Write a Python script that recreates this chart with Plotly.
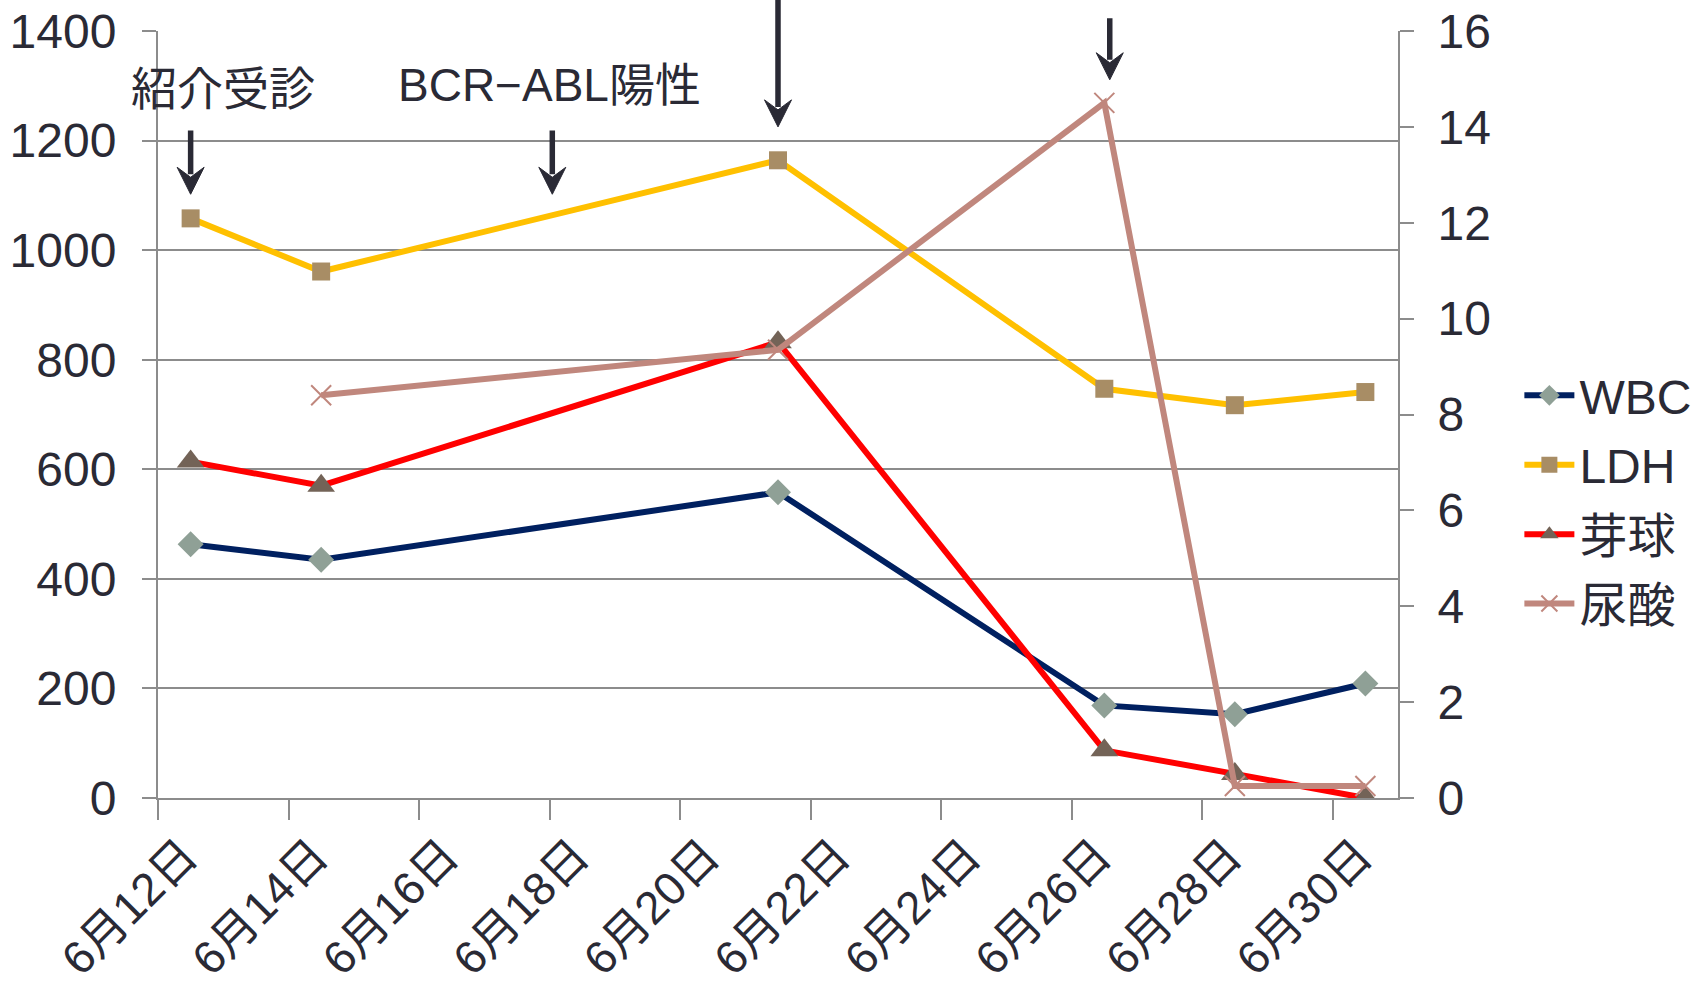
import plotly.graph_objects as go
from datetime import datetime, timedelta

# Measurement days (June); values are plotted at the middle of each day
days = [12, 14, 21, 26, 28, 30]
wbc = [463, 435, 558, 169, 153, 209]
ldh = [1058, 961, 1164, 747, 717, 741]
blast = [614, 570, 832, 87, 44, 0]
uric_days = [14, 21, 26, 28, 30]
uric = [8.4, 9.35, 14.5, 0.25, 0.25]

tick_days = [12, 14, 16, 18, 20, 22, 24, 26, 28, 30]
tick_text = ["6月12日", "6月14日", "6月16日", "6月18日", "6月20日",
             "6月22日", "6月24日", "6月26日", "6月28日", "6月30日"]

FONT = "Liberation Sans, Arial, Noto Sans CJK JP, sans-serif"
TXT = "#2a2a35"
GRID = "#8c8c8c"

W, H = 1707, 984
M = dict(l=158, r=308, t=31, b=186)
Y_MAX = 1400
UNITS_PER_PX = Y_MAX / (H - M["t"] - M["b"])


def day_mid(d):
    return datetime(2013, 6, 1, 12) + timedelta(days=d - 1)


def day_start(d, hours=0):
    return datetime(2013, 6, 1) + timedelta(days=d - 1, hours=hours)


fig = go.Figure()
fig.add_trace(go.Scatter(
    x=[day_mid(d) for d in days], y=wbc, name="WBC", mode="lines+markers",
    legendgroup="a",
    line=dict(color="#002060", width=6),
    marker=dict(symbol="diamond", size=20, color="#8fa096")))
fig.add_trace(go.Scatter(
    x=[day_mid(d) for d in days], y=ldh, name="LDH", mode="lines+markers",
    legendgroup="b",
    line=dict(color="#FFC000", width=6),
    marker=dict(symbol="square", size=18, color="#A88D65")))
fig.add_trace(go.Scatter(
    x=[day_mid(d) for d in days], y=blast, name="芽球", mode="lines+markers",
    legendgroup="c",
    line=dict(color="#FF0000", width=6),
    marker=dict(symbol="triangle-up", size=24, color="#736357")))
fig.add_trace(go.Scatter(
    x=[day_mid(d) for d in uric_days], y=uric, name="尿酸", mode="lines+markers",
    yaxis="y2", legendgroup="d",
    line=dict(color="#C0877D", width=6),
    marker=dict(symbol="x-thin", size=20, line=dict(color="#C0877D", width=2))))

# Event arrows (tip value, tail value) on the left axis scale
arrows = [
    (day_mid(12), 1102, 1221),
    (day_start(18, 1), 1102, 1221),
    (day_mid(21), 1225, 1470),
    (day_start(26, 14), 1311, 1426),
]
HEAD_LEN = 27
HEAD_HALF = 13.5
NOTCH = 17
annotations = []
shapes = []
for x, tip, tail in arrows:
    # shaft ends inside the notch of the head
    annotations.append(dict(
        x=x, y=tip + (NOTCH + 3) * UNITS_PER_PX, ax=x, ay=tail,
        xref="x", yref="y", axref="x", ayref="y",
        showarrow=True, arrowhead=0, arrowwidth=5.5, standoff=0,
        arrowcolor=TXT, text=""))
    shapes.append(dict(
        type="path", xref="x", yref="y",
        xsizemode="pixel", ysizemode="pixel", xanchor=x, yanchor=tip,
        path=(f"M0,0 L{-HEAD_HALF},{HEAD_LEN} L0,{NOTCH} "
              f"L{HEAD_HALF},{HEAD_LEN} Z"),
        fillcolor=TXT, line=dict(color=TXT, width=1)))

labels = [("紹介受診", day_start(13), 1295), ("BCR−ABL陽性", day_start(18), 1302)]
for t, x, y in labels:
    annotations.append(dict(
        x=x, y=y, xref="x", yref="y", text=t, showarrow=False,
        font=dict(family=FONT, size=46, color=TXT)))

fig.update_layout(
    width=W, height=H,
    margin=M,
    plot_bgcolor="white", paper_bgcolor="white",
    font=dict(family=FONT, size=46, color=TXT),
    showlegend=True,
    legend=dict(x=1.097, y=0.389, xanchor="left", yanchor="middle",
                font=dict(size=48, color=TXT), itemwidth=50,
                tracegroupgap=4, bgcolor="rgba(0,0,0,0)"),
    annotations=annotations,
    shapes=shapes,
    xaxis=dict(
        type="date", range=[day_start(12), day_start(31)],
        tickvals=[day_start(d) for d in tick_days], ticktext=tick_text,
        tickangle=-45, tickfont=dict(size=46, color=TXT),
        showgrid=False, zeroline=False, automargin=False,
        showline=True, linecolor=GRID, linewidth=2,
        ticks="outside", ticklen=20, tickwidth=2, tickcolor=GRID,
        ticklabelshift=26, ticklabelstandoff=-10),
    yaxis=dict(
        range=[0, Y_MAX], dtick=200, tickfont=dict(size=48, color=TXT),
        showgrid=True, gridcolor=GRID, gridwidth=2, zeroline=False,
        automargin=False,
        showline=True, linecolor=GRID, linewidth=2,
        ticks="outside", ticklen=14, tickwidth=2, tickcolor=GRID,
        ticklabelstandoff=16),
    yaxis2=dict(
        range=[0, 16], dtick=2, overlaying="y", side="right",
        tickfont=dict(size=48, color=TXT), automargin=False,
        showgrid=False, zeroline=False,
        showline=True, linecolor=GRID, linewidth=2,
        ticks="outside", ticklen=14, tickwidth=2, tickcolor=GRID,
        ticklabelstandoff=14),
)

fig.write_html("out.html")
